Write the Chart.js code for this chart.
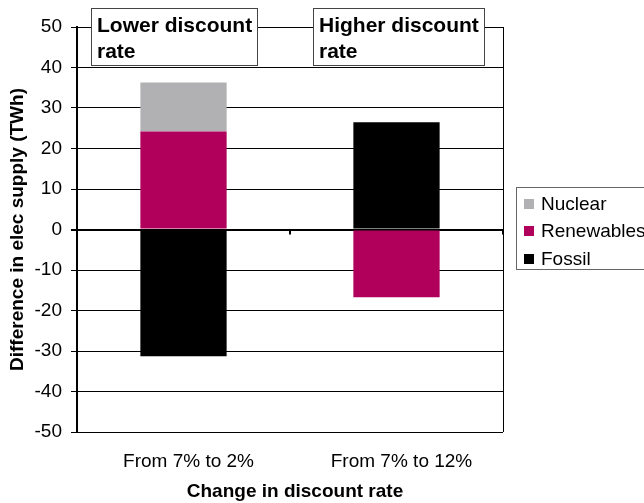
<!DOCTYPE html>
<html>
<head>
<meta charset="utf-8">
<script src="https://cdn.jsdelivr.net/npm/chart.js@4"></script>
<style>
  html, body { margin: 0; padding: 0; background: #fff; }
  #wrap { width: 644px; height: 503px; }
</style>
</head>
<body>
<div id="wrap"><canvas id="chartDesconto"></canvas></div>
<script>
// dados
const categorias = ["From 7% to 2%", "From 7% to 12%"];
const nuclear = [12.1, 0];
const renovaveis = [24.2, -16.7];
const fossil = [-31.3, 26.5];
const rotulosCaixas = [["Lower discount", "rate"], ["Higher discount", "rate"]];
const tituloX = "Change in discount rate";

const fonte = "'Liberation Sans', Arial, sans-serif";

// caixas de texto, legenda, titulo x e borda direita
const extras = {
  id: "extras",
  afterDraw(chart) {
    const ctx = chart.ctx;
    const area = chart.chartArea;
    const y0 = chart.scales.y.getPixelForValue(0);

    ctx.save();
    // borda direita
    ctx.strokeStyle = "#000";
    ctx.lineWidth = 1;
    ctx.beginPath();
    ctx.moveTo(area.right + 0.5, area.top);
    ctx.lineTo(area.right + 0.5, area.bottom);
    ctx.stroke();

    // marcas no eixo zero
    ctx.lineWidth = 2;
    const meio = (area.left + area.right) / 2;
    [meio, area.right].forEach(x => {
      ctx.beginPath();
      ctx.moveTo(x, y0);
      ctx.lineTo(x, y0 + 5);
      ctx.stroke();
    });

    // titulo do eixo x
    ctx.fillStyle = "#000";
    ctx.font = "bold 19px " + fonte;
    ctx.textAlign = "center";
    ctx.textBaseline = "middle";
    ctx.fillText(tituloX, meio + 5, 492);

    // caixas
    const caixas = [[91, 257], [313, 484]];
    ctx.font = "bold 21px " + fonte;
    ctx.textAlign = "left";
    caixas.forEach((c, i) => {
      ctx.fillStyle = "#fff";
      ctx.fillRect(c[0], 8, c[1] - c[0], 57);
      ctx.strokeStyle = "#444";
      ctx.lineWidth = 1;
      ctx.strokeRect(c[0] + 0.5, 8.5, c[1] - c[0], 57);
      ctx.fillStyle = "#000";
      ctx.fillText(rotulosCaixas[i][0], c[0] + 6, 26);
      ctx.fillText(rotulosCaixas[i][1], c[0] + 6, 52);
    });

    // legenda
    ctx.strokeStyle = "#666";
    ctx.lineWidth = 1;
    ctx.strokeRect(516.5, 187.5, 140, 82);
    ctx.font = "19px " + fonte;
    const itens = chart.data.datasets.slice().reverse();
    const ys = [204, 231, 259];
    itens.forEach((d, i) => {
      ctx.fillStyle = d.backgroundColor;
      ctx.fillRect(524, ys[i] - 5, 10, 10);
      ctx.fillStyle = "#000";
      ctx.fillText(d.label, 541, ys[i] + 1);
    });
    ctx.restore();
  }
};

let ctx = document.getElementById("chartDesconto").getContext("2d");
let grafico = new Chart(ctx, {
  type: "bar",
  data: {
    labels: categorias,
    datasets: [
      { label: "Fossil", data: fossil, backgroundColor: "#000000" },
      { label: "Renewables", data: renovaveis, backgroundColor: "#b0005c" },
      { label: "Nuclear", data: nuclear, backgroundColor: "#b1b1b3" }
    ]
  },
  options: {
    responsive: true,
    maintainAspectRatio: false,
    animation: false,
    layout: { padding: { top: 27, right: 141, left: 0, bottom: 0 } },
    datasets: { bar: { barPercentage: 1, categoryPercentage: 0.405 } },
    plugins: { legend: { display: false }, tooltip: { enabled: false } },
    scales: {
      x: {
        stacked: true,
        grid: { display: false },
        border: { display: false },
        ticks: { color: "#000", font: { family: fonte, size: 19 }, padding: 10, labelOffset: 5 },
        afterFit: s => { s.height = 71; }
      },
      y: {
        stacked: true,
        min: -50,
        max: 50,
        ticks: { stepSize: 10, color: "#000", font: { family: fonte, size: 19 }, padding: 9 },
        grid: {
          color: "#000",
          lineWidth: c => c.tick && c.tick.value === 0 ? 2 : 1,
          tickLength: 6,
          tickColor: "#000"
        },
        border: { display: true, color: "#000", width: 2 },
        title: { display: true, text: "Difference in elec supply (TWh)", color: "#000",
                 font: { family: fonte, size: 19, weight: "bold" }, padding: { top: 6, bottom: 4 } },
        afterFit: s => { s.width = 77; }
      }
    }
  },
  plugins: [extras]
});
</script>
</body>
</html>
